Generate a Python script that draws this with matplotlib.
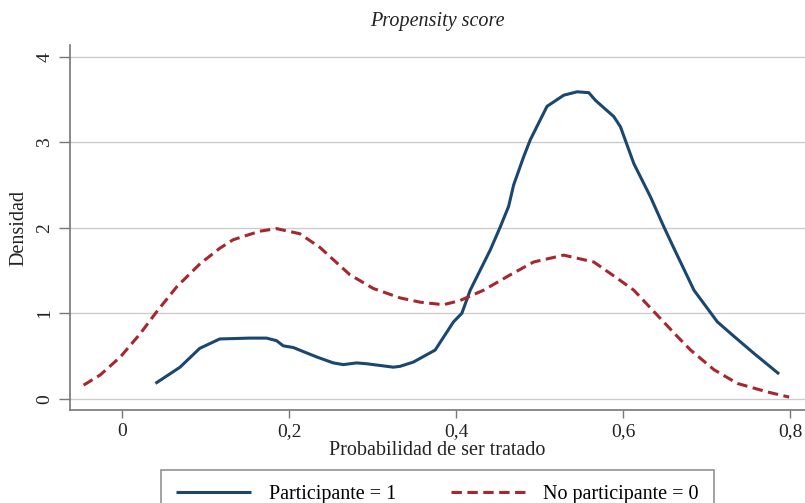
import matplotlib
matplotlib.use("Agg")
import matplotlib.pyplot as plt

plt.rcParams['font.family'] = ['Liberation Serif', 'DejaVu Serif']

# Densidad kernel, participantes (tratado = 1)
part_x = [0.040, 0.0695, 0.093, 0.117, 0.153, 0.173, 0.185, 0.193, 0.205, 0.233,
          0.253, 0.265, 0.281, 0.293, 0.325, 0.333, 0.349, 0.375, 0.397, 0.407,
          0.417, 0.441, 0.453, 0.463, 0.469, 0.481, 0.489, 0.509, 0.529, 0.545,
          0.559, 0.567, 0.589, 0.597, 0.613, 0.633, 0.649, 0.661, 0.685, 0.713,
          0.733, 0.757, 0.787]
part_y = [0.18, 0.37, 0.59, 0.70, 0.71, 0.71, 0.68, 0.62, 0.60, 0.49,
          0.42, 0.40, 0.42, 0.41, 0.37, 0.38, 0.43, 0.57, 0.90, 1.00,
          1.27, 1.74, 2.01, 2.25, 2.50, 2.83, 3.03, 3.42, 3.55, 3.59,
          3.58, 3.49, 3.30, 3.18, 2.75, 2.36, 2.01, 1.76, 1.27, 0.90,
          0.73, 0.53, 0.29]

# Densidad kernel, no participantes (tratado = 0)
nopart_x = [-0.046, -0.026, -0.002, 0.0216, 0.0416, 0.0655, 0.0935, 0.117, 0.133,
            0.165, 0.185, 0.213, 0.237, 0.273, 0.301, 0.333, 0.357, 0.385, 0.405,
            0.433, 0.465, 0.493, 0.529, 0.565, 0.593, 0.613, 0.637, 0.665, 0.681,
            0.709, 0.737, 0.773, 0.799]
nopart_y = [0.16, 0.28, 0.49, 0.76, 1.02, 1.31, 1.58, 1.76, 1.86,
            1.96, 1.99, 1.93, 1.77, 1.45, 1.29, 1.18, 1.13, 1.10, 1.15,
            1.27, 1.45, 1.60, 1.68, 1.60, 1.41, 1.27, 1.02, 0.73, 0.57,
            0.34, 0.18, 0.08, 0.02]

x_ticks = [0, 0.2, 0.4, 0.6, 0.8]
x_labels = ['0', '0,2', '0,4', '0,6', '0,8']
y_ticks = [0, 1, 2, 3, 4]

blue = '#1a476f'
red = '#a8262d'
axis_gray = '#777777'

fig = plt.figure(figsize=(8.05, 5.03), dpi=100)
ax = fig.add_axes([0.087, 0.184, 0.913, 0.7265])

ax.plot(part_x, part_y, color=blue, lw=2.2, solid_capstyle='butt',
        solid_joinstyle='round', label='Participante = 1')
ax.plot(nopart_x, nopart_y, color=red, lw=2.2, dashes=(3.4, 1.8),
        label='No participante = 0')

ax.set_xlim(-0.0623, 0.818)
ax.set_ylim(-0.136, 4.137)

ax.set_xticks(x_ticks)
ax.set_xticklabels(x_labels)
ax.set_yticks(y_ticks)
ax.set_yticklabels([str(v) for v in y_ticks], rotation=90, va='center')

ax.grid(axis='y', color='#cccccc', lw=1.0)
ax.set_axisbelow(True)

for s in ['top', 'right']:
    ax.spines[s].set_visible(False)
for s in ['left', 'bottom']:
    ax.spines[s].set_color(axis_gray)
    ax.spines[s].set_linewidth(1.2)

ax.tick_params(axis='both', colors=axis_gray, labelcolor='#222222',
               labelsize=14, width=1.0)
ax.tick_params(axis='y', length=8, pad=4)
ax.tick_params(axis='x', length=6, pad=3)

ax.set_xlabel('Probabilidad de ser tratado', fontsize=14.5, color='#222222',
              labelpad=1)
ax.set_ylabel('Densidad', fontsize=14.5, color='#222222', labelpad=6)
ax.set_title('Propensity score', fontsize=14.5, style='italic', color='#222222',
             pad=14)

leg = ax.legend(loc='upper center', bbox_to_anchor=(0.5, -0.163), ncol=2,
                frameon=True, fancybox=False, fontsize=14.5, handlelength=3.7,
                columnspacing=2.7, borderpad=0.75, borderaxespad=0,
                handletextpad=0.9)
leg.get_frame().set_edgecolor(axis_gray)
leg.get_frame().set_linewidth(1.2)

fig.savefig('out.png', dpi=100)
